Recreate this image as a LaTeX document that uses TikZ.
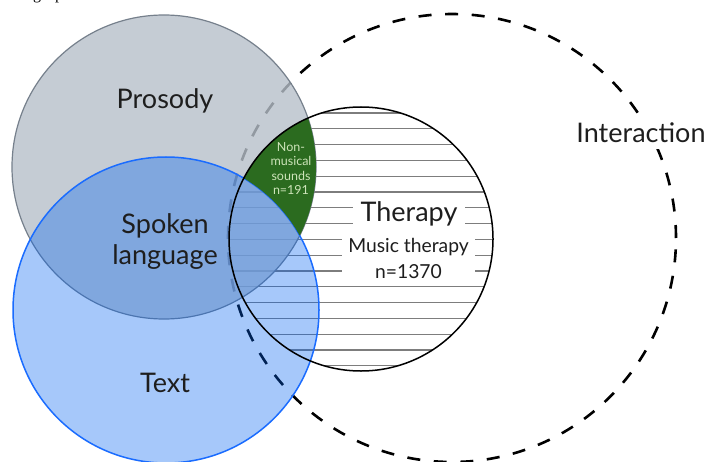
\documentclass[tikz,border=0pt]{standalone}
\usepackage{fontspec}
\setmainfont{Lato}
\newfontfamily\capfont{Liberation Serif}
\definecolor{grayfill}{RGB}{183,192,202}
\definecolor{grayedge}{RGB}{118,128,140}
\definecolor{bluefill}{RGB}{0,98,243}
\definecolor{blueedge}{RGB}{26,108,255}
\definecolor{greenfill}{RGB}{43,107,31}
\definecolor{greentext}{RGB}{205,228,185}
\definecolor{hatchcol}{RGB}{125,125,125}
\definecolor{textcol}{RGB}{30,30,30}
\tikzset{
  biglabel/.style={font=\fontsize{27}{31}\selectfont, text=textcol, align=center, inner sep=0pt},
  hatchline/.style={draw=hatchcol, line width=1.2pt},
  interactionline/.style={draw=black, line width=2.6pt, dash pattern=on 13pt off 13.6pt},
  whitebox/.style={fill=white, inner sep=0pt, text=textcol, align=center},
}
\begin{document}
\begin{tikzpicture}[x=1pt,y=-1pt]
\useasboundingbox (0,0) rectangle (708,462);
\fill[white] (0,0) rectangle (708,462);
\coordinate (P) at (164,167);
\coordinate (T) at (166,310);
\coordinate (Th) at (361,239);
\coordinate (I) at (452,238);
% caption fragment
\node[font=\capfont\fontsize{16}{16}\selectfont, anchor=base west, inner sep=0pt] (cap) at (33,-0.8) {g\hspace{14pt}p};
% hatching
\begin{scope}
  \clip (Th) circle[radius=132pt];
  \foreach \k in {0,...,16} {
    \draw[hatchline] (225,{113+15.8*\k}) -- (500,{113+15.8*\k});
  }
\end{scope}
% interaction dashed circle
\draw[interactionline] (I) circle[radius=224pt];
% prosody
\fill[grayfill, opacity=.8] (P) circle[radius=152pt];
\draw[grayedge, line width=1.2pt] (P) circle[radius=152pt];
% text circle
\fill[bluefill, opacity=.35] (T) circle[radius=153pt];
\draw[blueedge, line width=1.5pt] (T) circle[radius=153pt];
% green region
\begin{scope}
  \clip (P) circle[radius=152pt];
  \clip (Th) circle[radius=132pt];
  \fill[greenfill, even odd rule] (Th) circle[radius=132pt] (T) circle[radius=153pt];
\end{scope}
% therapy outline
\draw[black, line width=1.5pt] (Th) circle[radius=132pt];
% labels
\node[biglabel] (prosody) at (165,101) {Prosody};
\node[biglabel] (spoken) at (165,242) {Spoken\\language};
\node[biglabel] (text) at (165,383) {Text};
\node[biglabel, fill=white, inner xsep=1pt, inner ysep=6pt] (interaction) at (641,133) {Interaction};
\node[whitebox, font=\fontsize{27}{31}\selectfont, minimum width=112pt, minimum height=34pt] (therapy) at (409,214) {Therapy};
\node[whitebox, font=\fontsize{19.3}{26}\selectfont, minimum width=133pt, minimum height=47pt] (music) at (408.5,258) {Music therapy\\n=1370};
\node[align=center, text=greentext, inner sep=0pt, font=\fontsize{12.5}{14.5}\selectfont] (nonmusical) at (291,168.5) {Non-\\musical\\sounds\\n=191};
\end{tikzpicture}
\end{document}
